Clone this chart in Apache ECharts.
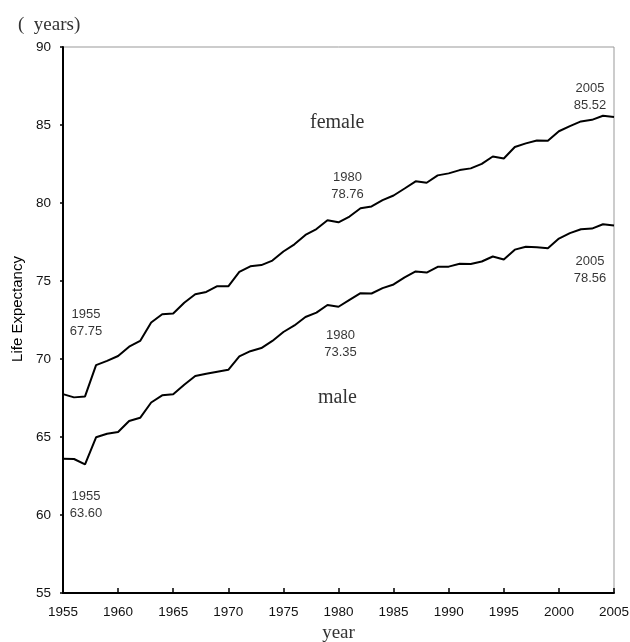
<!DOCTYPE html>
<html>
<head>
<meta charset="utf-8">
<script src="https://cdn.jsdelivr.net/npm/echarts@6/dist/echarts.min.js"></script>
<style>
  html, body { margin: 0; padding: 0; background: #fff; }
  #chart { width: 630px; height: 642px; }
</style>
</head>
<body>
<div id="chart"></div>
<script>
// Life expectancy at birth, 1955-2005
const years = [];
for (let y = 1955; y <= 2005; y++) years.push(y);

const female = [
  67.75, 67.54, 67.60, 69.61, 69.88, 70.19, 70.79, 71.16, 72.34, 72.87,
  72.92, 73.61, 74.15, 74.30, 74.67, 74.66, 75.58, 75.94, 76.02, 76.31,
  76.89, 77.35, 77.95, 78.33, 78.89, 78.76, 79.13, 79.66, 79.78, 80.18,
  80.48, 80.93, 81.39, 81.30, 81.77, 81.90, 82.11, 82.22, 82.51, 82.98,
  82.85, 83.59, 83.82, 84.01, 83.99, 84.60, 84.93, 85.23, 85.33, 85.59,
  85.52
];

const male = [
  63.60, 63.59, 63.24, 64.98, 65.21, 65.32, 66.03, 66.23, 67.21, 67.67,
  67.74, 68.35, 68.91, 69.05, 69.18, 69.31, 70.17, 70.50, 70.70, 71.16,
  71.73, 72.15, 72.69, 72.97, 73.46, 73.35, 73.79, 74.22, 74.20, 74.54,
  74.78, 75.23, 75.61, 75.54, 75.91, 75.92, 76.11, 76.09, 76.25, 76.57,
  76.38, 77.01, 77.19, 77.16, 77.10, 77.72, 78.07, 78.32, 78.36, 78.64,
  78.56
];

// Years whose values are written next to each curve, with label offsets
const femaleNotes = [
  { year: 1955, offset: [23, -71] },
  { year: 1980, offset: [9, -36] },
  { year: 2005, offset: [-24, -20] }
];
const maleNotes = [
  { year: 1955, offset: [23, 46] },
  { year: 1980, offset: [2, 37] },
  { year: 2005, offset: [-24, 44] }
];

const sans = 'Liberation Sans, Arial, sans-serif';
const serif = 'Liberation Serif, DejaVu Serif, serif';

function pairs(values) {
  return years.map((y, i) => [y, values[i]]);
}

function notePoints(values, notes) {
  return notes.map(n => {
    const v = values[years.indexOf(n.year)];
    return {
      value: [n.year, v],
      label: { offset: n.offset }
    };
  });
}

const noteLabel = {
  show: true,
  position: 'inside',
  fontFamily: sans,
  fontSize: 13,
  lineHeight: 17,
  color: '#000',
  align: 'center',
  formatter: p => p.value[0] + '\n' + p.value[1].toFixed(2)
};

const chart = echarts.init(document.getElementById('chart'));
chart.setOption({
  animation: false,
  backgroundColor: '#fff',
  title: {
    text: '(  years)',
    left: 13,
    top: 11,
    textStyle: { fontFamily: serif, fontSize: 19, fontWeight: 'normal', color: '#333' }
  },
  grid: {
    left: 63, right: 16, top: 47, bottom: 49,
    containLabel: false,
    outerBoundsMode: 'none',
    show: true, borderColor: '#999', borderWidth: 1, backgroundColor: 'transparent'
  },
  xAxis: {
    type: 'value',
    min: 1955, max: 2005, interval: 5,
    name: 'year',
    nameLocation: 'middle',
    nameGap: 27,
    nameTextStyle: { fontFamily: serif, fontSize: 19, color: '#333' },
    axisLine: { lineStyle: { color: '#000', width: 2 } },
    axisTick: { inside: true, length: 5, lineStyle: { color: '#000', width: 1.5 } },
    axisLabel: { fontFamily: sans, fontSize: 13.5, color: '#111', margin: 12, formatter: v => String(v) },
    splitLine: { show: false }
  },
  yAxis: {
    type: 'value',
    min: 55, max: 90, interval: 5,
    name: 'Life Expectancy',
    nameLocation: 'middle',
    nameGap: 38,
    nameRotate: 90,
    nameTextStyle: { fontFamily: sans, fontSize: 15, color: '#000', padding: [0, 0, 0, 22] },
    axisLine: { show: true, lineStyle: { color: '#000', width: 2 } },
    axisTick: { show: true, length: 3, lineStyle: { color: '#000', width: 1.5 } },
    axisLabel: { fontFamily: sans, fontSize: 13.5, color: '#111', margin: 12 },
    splitLine: { show: false }
  },
  graphic: [
    {
      type: 'text', left: 310, top: 113,
      style: { text: 'female', fontFamily: serif, fontSize: 20, fill: '#333' }
    },
    {
      type: 'text', left: 318, top: 388,
      style: { text: 'male', fontFamily: serif, fontSize: 20, fill: '#333' }
    }
  ],
  series: [
    {
      name: 'female', type: 'line', data: pairs(female),
      symbol: 'none', lineStyle: { color: '#000', width: 2 }, z: 3
    },
    {
      name: 'male', type: 'line', data: pairs(male),
      symbol: 'none', lineStyle: { color: '#000', width: 2 }, z: 3
    },
    {
      name: 'female notes', type: 'scatter', data: notePoints(female, femaleNotes),
      symbolSize: 0, label: noteLabel, silent: true
    },
    {
      name: 'male notes', type: 'scatter', data: notePoints(male, maleNotes),
      symbolSize: 0, label: noteLabel, silent: true
    }
  ]
});
</script>
</body>
</html>
